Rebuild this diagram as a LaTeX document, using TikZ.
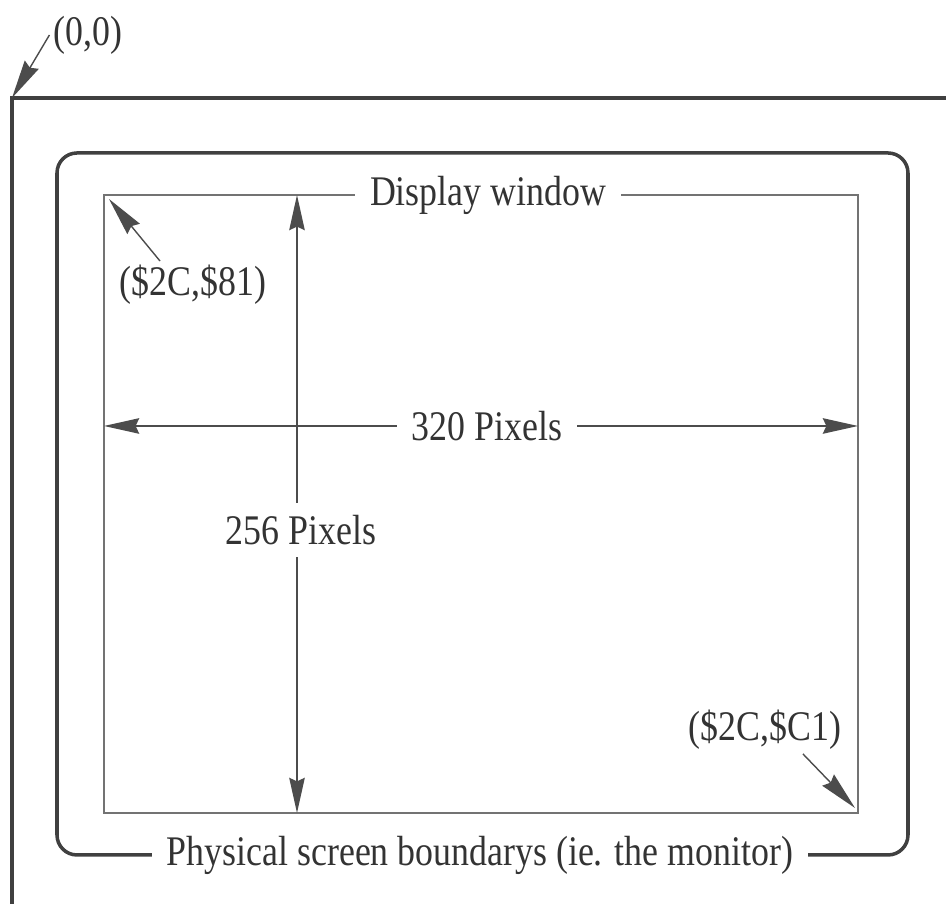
\documentclass[tikz,border=0pt]{standalone}
\usepackage{fontspec}
\setmainfont{Liberation Serif}[FakeStretch=0.85]
\usetikzlibrary{arrows.meta,positioning}

\begin{document}
\begin{tikzpicture}[
  frame/.style={line width=1pt,draw=black!75},
  win/.style={line width=0.6pt,draw=black!55},
  dim/.style={line width=0.5pt,draw=black!70,{Stealth[length=10pt,width=4.4pt,inset=1pt]}-{Stealth[length=10pt,width=4.4pt,inset=1pt]}},
  ptr/.style={line width=0.4pt,draw=black!70,-{Stealth[length=11pt,width=4.6pt,inset=1pt]}},
  lbl/.style={font=\fontsize{12}{14}\selectfont,text=black!80,inner sep=1pt},
  cut/.style={lbl,fill=white,inner xsep=0.15cm}]
\useasboundingbox (0,0) rectangle (9.46,9.04);
\draw[frame] (0.12,0) -- (0.12,8.06) coordinate (origin) -- (9.46,8.06);%画面の外枠
\draw[frame,rounded corners=0.2cm] (0.57,0.49) rectangle (9.08,7.51);%モニタ
\draw[win] (1.04,0.91) rectangle (8.58,7.09);%表示ウィンドウ
\coordinate (top) at (2.97,7.09);
\coordinate (bot) at (2.97,0.91);
\coordinate (left) at (1.04,4.78);
\coordinate (right) at (8.58,4.78);
\coordinate (nw) at (1.09,7.05);
\coordinate (se) at (8.55,0.96);
\draw[dim] (bot) -- (top);%縦
\draw[dim] (left) -- (right);%横
\node[cut] (dwlabel) at (4.88,7.09) {Display window};
\node[cut] (hlabel) at (4.87,4.78) {320 Pixels};
\node[cut,inner ysep=0.12cm] (vlabel) at (3.01,3.74) {256 Pixels};
\node[cut] (monlabel) at (4.80,0.49) {Physical screen boundarys (ie. the monitor)};
\node[lbl] (org) at (0.88,8.69) {(0,0)};
\draw[ptr] (org.west) -- (origin);
\node[lbl] (tl) at (1.93,6.19) {(\$2C,\$81)};
\draw[ptr] ([xshift=-0.33cm]tl.north) -- (nw);
\node[lbl] (br) at (7.65,1.74) {(\$2C,\$C1)};
\draw[ptr] ([xshift=0.38cm]br.south) -- (se);
\end{tikzpicture}
\end{document}
